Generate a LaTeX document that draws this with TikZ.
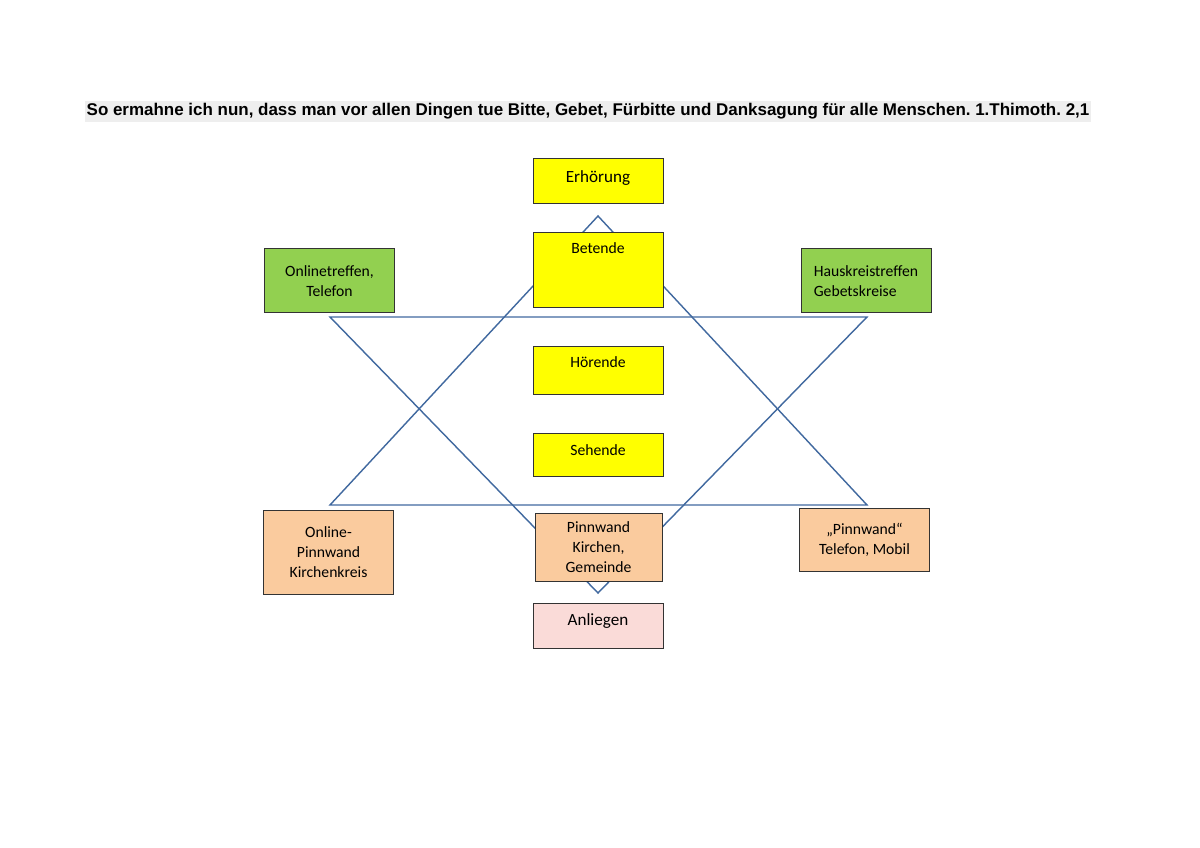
\documentclass[tikz,border=0pt]{standalone}
\usepackage{fontspec}
\setmainfont{Carlito}
\newfontfamily\titlefont{Liberation Sans}
\usepackage{tikz}
\frenchspacing

\newlength\px
\setlength\px{0.7017pt}

\definecolor{boxyellow}{HTML}{FFFF00}
\definecolor{boxgreen}{HTML}{92D050}
\definecolor{boxorange}{HTML}{FACB9E}
\definecolor{boxpink}{HTML}{FADBD8}
\definecolor{starblue}{HTML}{41699F}
\definecolor{titlegray}{HTML}{EEEEEE}

\tikzset{
    box/.style={draw=black!80, line width=0.7pt, inner sep=0pt, align=center,
        minimum width=130\px, font=\fontsize{11}{14}\selectfont},
    star/.style={draw=starblue, line width=1pt, line join=miter}
}

\begin{document}
\begin{tikzpicture}[x=\px, y=-\px]
    \useasboundingbox (0,0) rectangle (1200,848);

    \node[fill=titlegray, inner xsep=1.5pt, inner ysep=2pt,
        font=\titlefont\bfseries\fontsize{11.9}{14}\selectfont] (title) at (588,111.5)
        {So ermahne ich nun, dass man vor allen Dingen tue Bitte, Gebet, F\"urbitte und Danksagung f\"ur alle Menschen. 1.Thimoth. 2,1};

    % star
    \coordinate (up) at (598,216);
    \coordinate (upl) at (330,505);
    \coordinate (upr) at (867,505);
    \coordinate (dn) at (598,593);
    \coordinate (dnl) at (330,317);
    \coordinate (dnr) at (867,317);
    \draw[star] (up) -- (upr) -- (upl) -- cycle;
    \draw[star] (dn) -- (dnl) -- (dnr) -- cycle;

    % middle column
    \node[box, fill=boxyellow, minimum height=45\px, text height=24\px, text depth=21\px,
        font=\fontsize{12}{14}\selectfont] (erhoerung) at (598,181) {Erh\"orung};
    \node[box, fill=boxyellow, minimum height=75\px, text height=21\px, text depth=54\px]
        (betende) at (598,270) {Betende};
    \node[box, fill=boxyellow, minimum height=48\px, text height=21\px, text depth=27\px]
        (hoerende) at (598,370.5) {H\"orende};
    \node[box, fill=boxyellow, minimum height=43\px, text height=22\px, text depth=21\px]
        (sehende) at (598,455) {Sehende};
    \node[box, fill=boxorange, minimum width=127\px, minimum height=68\px]
        (pinnwand) at (598.5,547) {Pinnwand\\Kirchen,\\Gemeinde};
    \node[box, fill=boxpink, minimum height=45\px, text height=22\px, text depth=23\px,
        font=\fontsize{12}{14}\selectfont] (anliegen) at (598,626) {Anliegen};

    % sides
    \node[box, fill=boxgreen, minimum height=64\px] (online) at (329.5,281) {Onlinetreffen,\\Telefon};
    \node[box, fill=boxgreen, minimum height=64\px, align=left] (hauskreis) at (866,281)
        {Hauskreistreffen\\Gebetskreise};
    \node[box, fill=boxorange, minimum height=84\px] (onlinepinn) at (328.5,552)
        {Online-\\Pinnwand\\Kirchenkreis};
    \node[box, fill=boxorange, minimum height=63\px] (telefon) at (864.5,540)
        {\quotedblbase Pinnwand\textquotedblleft\\Telefon, Mobil};
\end{tikzpicture}
\end{document}
